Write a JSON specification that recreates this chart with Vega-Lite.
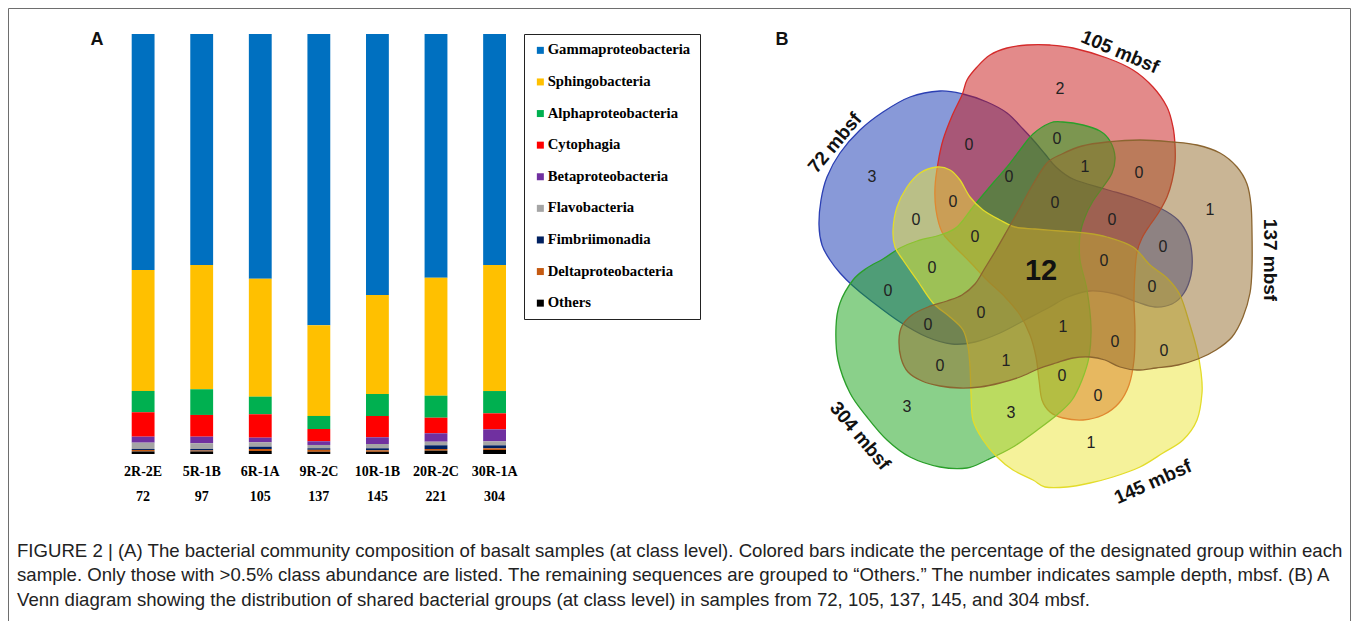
{
  "$schema": "https://vega.github.io/schema/vega-lite/v6.json",
  "width": 1342,
  "height": 620,
  "autosize": "none",
  "padding": {"left": 8, "top": 8, "right": 8, "bottom": 8},
  "background": "white",
  "config": {"view": {"stroke": "#6e6e6e", "strokeWidth": 1}, "font": "Liberation Sans"},
  "title": {
    "text": [
      "FIGURE 2 | (A) The bacterial community composition of basalt samples (at class level). Colored bars indicate the percentage of the designated group within each",
      "sample. Only those with >0.5% class abundance are listed. The remaining sequences are grouped to “Others.” The number indicates sample depth, mbsf. (B) A",
      "Venn diagram showing the distribution of shared bacterial groups (at class level) in samples from 72, 105, 137, 145, and 304 mbsf."
    ],
    "orient": "bottom",
    "anchor": "start",
    "frame": "group",
    "offset": -86,
    "dx": 9,
    "baseline": "top",
    "font": "Liberation Sans",
    "fontSize": 18.6,
    "fontWeight": "normal",
    "color": "#222",
    "lineHeight": 24.3
  },
  "datasets": {
    "bars": [
      {"s": "2R-2E|72", "cls": "Gammaproteobacteria", "k": 9, "v": 56.2},
      {"s": "2R-2E|72", "cls": "Sphingobacteria", "k": 8, "v": 28.8},
      {"s": "2R-2E|72", "cls": "Alphaproteobacteria", "k": 7, "v": 5.07},
      {"s": "2R-2E|72", "cls": "Cytophagia", "k": 6, "v": 5.81},
      {"s": "2R-2E|72", "cls": "Betaproteobacteria", "k": 5, "v": 1.43},
      {"s": "2R-2E|72", "cls": "Flavobacteria", "k": 4, "v": 1.5},
      {"s": "2R-2E|72", "cls": "Fimbriimonadia", "k": 3, "v": 0.24},
      {"s": "2R-2E|72", "cls": "Deltaproteobacteria", "k": 2, "v": 0.36},
      {"s": "2R-2E|72", "cls": "Others", "k": 1, "v": 0.6},
      {"s": "5R-1B|97", "cls": "Gammaproteobacteria", "k": 9, "v": 55.0},
      {"s": "5R-1B|97", "cls": "Sphingobacteria", "k": 8, "v": 29.6},
      {"s": "5R-1B|97", "cls": "Alphaproteobacteria", "k": 7, "v": 6.12},
      {"s": "5R-1B|97", "cls": "Cytophagia", "k": 6, "v": 5.17},
      {"s": "5R-1B|97", "cls": "Betaproteobacteria", "k": 5, "v": 1.57},
      {"s": "5R-1B|97", "cls": "Flavobacteria", "k": 4, "v": 1.36},
      {"s": "5R-1B|97", "cls": "Fimbriimonadia", "k": 3, "v": 0.36},
      {"s": "5R-1B|97", "cls": "Deltaproteobacteria", "k": 2, "v": 0.24},
      {"s": "5R-1B|97", "cls": "Others", "k": 1, "v": 0.6},
      {"s": "6R-1A|105", "cls": "Gammaproteobacteria", "k": 9, "v": 58.26},
      {"s": "6R-1A|105", "cls": "Sphingobacteria", "k": 8, "v": 28.1},
      {"s": "6R-1A|105", "cls": "Alphaproteobacteria", "k": 7, "v": 4.19},
      {"s": "6R-1A|105", "cls": "Cytophagia", "k": 6, "v": 5.57},
      {"s": "6R-1A|105", "cls": "Betaproteobacteria", "k": 5, "v": 1.1},
      {"s": "6R-1A|105", "cls": "Flavobacteria", "k": 4, "v": 1.05},
      {"s": "6R-1A|105", "cls": "Fimbriimonadia", "k": 3, "v": 0.55},
      {"s": "6R-1A|105", "cls": "Deltaproteobacteria", "k": 2, "v": 0.48},
      {"s": "6R-1A|105", "cls": "Others", "k": 1, "v": 0.71},
      {"s": "9R-2C|137", "cls": "Gammaproteobacteria", "k": 9, "v": 69.36},
      {"s": "9R-2C|137", "cls": "Sphingobacteria", "k": 8, "v": 21.6},
      {"s": "9R-2C|137", "cls": "Alphaproteobacteria", "k": 7, "v": 3.1},
      {"s": "9R-2C|137", "cls": "Cytophagia", "k": 6, "v": 2.93},
      {"s": "9R-2C|137", "cls": "Betaproteobacteria", "k": 5, "v": 0.88},
      {"s": "9R-2C|137", "cls": "Flavobacteria", "k": 4, "v": 0.79},
      {"s": "9R-2C|137", "cls": "Fimbriimonadia", "k": 3, "v": 0.36},
      {"s": "9R-2C|137", "cls": "Deltaproteobacteria", "k": 2, "v": 0.48},
      {"s": "9R-2C|137", "cls": "Others", "k": 1, "v": 0.52},
      {"s": "10R-1B|145", "cls": "Gammaproteobacteria", "k": 9, "v": 62.14},
      {"s": "10R-1B|145", "cls": "Sphingobacteria", "k": 8, "v": 23.57},
      {"s": "10R-1B|145", "cls": "Alphaproteobacteria", "k": 7, "v": 5.24},
      {"s": "10R-1B|145", "cls": "Cytophagia", "k": 6, "v": 5.07},
      {"s": "10R-1B|145", "cls": "Betaproteobacteria", "k": 5, "v": 1.6},
      {"s": "10R-1B|145", "cls": "Flavobacteria", "k": 4, "v": 1.02},
      {"s": "10R-1B|145", "cls": "Fimbriimonadia", "k": 3, "v": 0.48},
      {"s": "10R-1B|145", "cls": "Deltaproteobacteria", "k": 2, "v": 0.36},
      {"s": "10R-1B|145", "cls": "Others", "k": 1, "v": 0.52},
      {"s": "20R-2C|221", "cls": "Gammaproteobacteria", "k": 9, "v": 58.02},
      {"s": "20R-2C|221", "cls": "Sphingobacteria", "k": 8, "v": 28.1},
      {"s": "20R-2C|221", "cls": "Alphaproteobacteria", "k": 7, "v": 5.24},
      {"s": "20R-2C|221", "cls": "Cytophagia", "k": 6, "v": 3.71},
      {"s": "20R-2C|221", "cls": "Betaproteobacteria", "k": 5, "v": 2.0},
      {"s": "20R-2C|221", "cls": "Flavobacteria", "k": 4, "v": 0.86},
      {"s": "20R-2C|221", "cls": "Fimbriimonadia", "k": 3, "v": 0.88},
      {"s": "20R-2C|221", "cls": "Deltaproteobacteria", "k": 2, "v": 0.4},
      {"s": "20R-2C|221", "cls": "Others", "k": 1, "v": 0.79},
      {"s": "30R-1A|304", "cls": "Gammaproteobacteria", "k": 9, "v": 55.0},
      {"s": "30R-1A|304", "cls": "Sphingobacteria", "k": 8, "v": 30.0},
      {"s": "30R-1A|304", "cls": "Alphaproteobacteria", "k": 7, "v": 5.31},
      {"s": "30R-1A|304", "cls": "Cytophagia", "k": 6, "v": 3.81},
      {"s": "30R-1A|304", "cls": "Betaproteobacteria", "k": 5, "v": 2.86},
      {"s": "30R-1A|304", "cls": "Flavobacteria", "k": 4, "v": 0.95},
      {"s": "30R-1A|304", "cls": "Fimbriimonadia", "k": 3, "v": 0.71},
      {"s": "30R-1A|304", "cls": "Deltaproteobacteria", "k": 2, "v": 0.4},
      {"s": "30R-1A|304", "cls": "Others", "k": 1, "v": 0.95}
    ],
    "shapes": [
      {"g": "72", "i": 1, "x": 940, "y": 91}, {"g": "72", "i": 2, "x": 963, "y": 94}, {"g": "72", "i": 3, "x": 987, "y": 102}, {"g": "72", "i": 4, "x": 1007, "y": 113},
      {"g": "72", "i": 5, "x": 1023, "y": 129}, {"g": "72", "i": 6, "x": 1034, "y": 141}, {"g": "72", "i": 7, "x": 1045, "y": 154}, {"g": "72", "i": 8, "x": 1056, "y": 167},
      {"g": "72", "i": 9, "x": 1073, "y": 179}, {"g": "72", "i": 10, "x": 1105, "y": 189}, {"g": "72", "i": 11, "x": 1135, "y": 198}, {"g": "72", "i": 12, "x": 1160, "y": 208},
      {"g": "72", "i": 13, "x": 1178, "y": 220}, {"g": "72", "i": 14, "x": 1188, "y": 236}, {"g": "72", "i": 15, "x": 1192, "y": 255}, {"g": "72", "i": 16, "x": 1191, "y": 275},
      {"g": "72", "i": 17, "x": 1184, "y": 293}, {"g": "72", "i": 18, "x": 1172, "y": 304}, {"g": "72", "i": 19, "x": 1155, "y": 307}, {"g": "72", "i": 20, "x": 1137, "y": 302},
      {"g": "72", "i": 21, "x": 1115, "y": 294}, {"g": "72", "i": 22, "x": 1090, "y": 291}, {"g": "72", "i": 23, "x": 1068, "y": 297}, {"g": "72", "i": 24, "x": 1048, "y": 308},
      {"g": "72", "i": 25, "x": 1025, "y": 320}, {"g": "72", "i": 26, "x": 1000, "y": 333}, {"g": "72", "i": 27, "x": 975, "y": 342}, {"g": "72", "i": 28, "x": 952, "y": 344},
      {"g": "72", "i": 29, "x": 927, "y": 337}, {"g": "72", "i": 30, "x": 900, "y": 322}, {"g": "72", "i": 31, "x": 870, "y": 300}, {"g": "72", "i": 32, "x": 853, "y": 286},
      {"g": "72", "i": 33, "x": 840, "y": 273}, {"g": "72", "i": 34, "x": 830, "y": 260}, {"g": "72", "i": 35, "x": 822, "y": 245}, {"g": "72", "i": 36, "x": 819, "y": 225},
      {"g": "72", "i": 37, "x": 821, "y": 200}, {"g": "72", "i": 38, "x": 827, "y": 177}, {"g": "72", "i": 39, "x": 840, "y": 153}, {"g": "72", "i": 40, "x": 860, "y": 130},
      {"g": "72", "i": 41, "x": 883, "y": 112}, {"g": "72", "i": 42, "x": 910, "y": 97},

      {"g": "105", "i": 1, "x": 962, "y": 95}, {"g": "105", "i": 2, "x": 967, "y": 80}, {"g": "105", "i": 3, "x": 977, "y": 67}, {"g": "105", "i": 4, "x": 990, "y": 55},
      {"g": "105", "i": 5, "x": 1007, "y": 48}, {"g": "105", "i": 6, "x": 1027, "y": 45}, {"g": "105", "i": 7, "x": 1050, "y": 45}, {"g": "105", "i": 8, "x": 1073, "y": 48},
      {"g": "105", "i": 9, "x": 1107, "y": 58}, {"g": "105", "i": 10, "x": 1133, "y": 70}, {"g": "105", "i": 11, "x": 1153, "y": 87}, {"g": "105", "i": 12, "x": 1167, "y": 107},
      {"g": "105", "i": 13, "x": 1173, "y": 127}, {"g": "105", "i": 14, "x": 1175, "y": 145}, {"g": "105", "i": 15, "x": 1175, "y": 163}, {"g": "105", "i": 16, "x": 1172, "y": 181},
      {"g": "105", "i": 17, "x": 1167, "y": 197}, {"g": "105", "i": 18, "x": 1159, "y": 212}, {"g": "105", "i": 19, "x": 1150, "y": 225}, {"g": "105", "i": 20, "x": 1142, "y": 238},
      {"g": "105", "i": 21, "x": 1137, "y": 252}, {"g": "105", "i": 22, "x": 1135, "y": 272}, {"g": "105", "i": 23, "x": 1134, "y": 300}, {"g": "105", "i": 24, "x": 1135, "y": 330},
      {"g": "105", "i": 25, "x": 1134, "y": 360}, {"g": "105", "i": 26, "x": 1129, "y": 385}, {"g": "105", "i": 27, "x": 1119, "y": 403}, {"g": "105", "i": 28, "x": 1103, "y": 415},
      {"g": "105", "i": 29, "x": 1083, "y": 420}, {"g": "105", "i": 30, "x": 1063, "y": 418}, {"g": "105", "i": 31, "x": 1050, "y": 412}, {"g": "105", "i": 32, "x": 1042, "y": 400},
      {"g": "105", "i": 33, "x": 1039, "y": 380}, {"g": "105", "i": 34, "x": 1036, "y": 357}, {"g": "105", "i": 35, "x": 1030, "y": 335}, {"g": "105", "i": 36, "x": 1020, "y": 315},
      {"g": "105", "i": 37, "x": 1005, "y": 297}, {"g": "105", "i": 38, "x": 987, "y": 280}, {"g": "105", "i": 39, "x": 970, "y": 262}, {"g": "105", "i": 40, "x": 953, "y": 245},
      {"g": "105", "i": 41, "x": 942, "y": 232}, {"g": "105", "i": 42, "x": 936, "y": 210}, {"g": "105", "i": 43, "x": 935, "y": 187}, {"g": "105", "i": 44, "x": 938, "y": 163},
      {"g": "105", "i": 45, "x": 943, "y": 140}, {"g": "105", "i": 46, "x": 952, "y": 116},

      {"g": "137", "i": 1, "x": 1047, "y": 163}, {"g": "137", "i": 2, "x": 1062, "y": 154}, {"g": "137", "i": 3, "x": 1082, "y": 146}, {"g": "137", "i": 4, "x": 1107, "y": 142},
      {"g": "137", "i": 5, "x": 1140, "y": 140}, {"g": "137", "i": 6, "x": 1173, "y": 142}, {"g": "137", "i": 7, "x": 1197, "y": 145}, {"g": "137", "i": 8, "x": 1220, "y": 153},
      {"g": "137", "i": 9, "x": 1237, "y": 167}, {"g": "137", "i": 10, "x": 1247, "y": 184}, {"g": "137", "i": 11, "x": 1251, "y": 205}, {"g": "137", "i": 12, "x": 1252, "y": 232},
      {"g": "137", "i": 13, "x": 1252, "y": 268}, {"g": "137", "i": 14, "x": 1250, "y": 293}, {"g": "137", "i": 15, "x": 1243, "y": 317}, {"g": "137", "i": 16, "x": 1232, "y": 337},
      {"g": "137", "i": 17, "x": 1216, "y": 350}, {"g": "137", "i": 18, "x": 1198, "y": 359}, {"g": "137", "i": 19, "x": 1178, "y": 365}, {"g": "137", "i": 20, "x": 1156, "y": 368},
      {"g": "137", "i": 21, "x": 1137, "y": 370}, {"g": "137", "i": 22, "x": 1120, "y": 367}, {"g": "137", "i": 23, "x": 1105, "y": 360}, {"g": "137", "i": 24, "x": 1090, "y": 357},
      {"g": "137", "i": 25, "x": 1073, "y": 358}, {"g": "137", "i": 26, "x": 1056, "y": 363}, {"g": "137", "i": 27, "x": 1038, "y": 369}, {"g": "137", "i": 28, "x": 1020, "y": 377},
      {"g": "137", "i": 29, "x": 1000, "y": 383}, {"g": "137", "i": 30, "x": 980, "y": 387}, {"g": "137", "i": 31, "x": 960, "y": 388}, {"g": "137", "i": 32, "x": 940, "y": 386},
      {"g": "137", "i": 33, "x": 922, "y": 381}, {"g": "137", "i": 34, "x": 908, "y": 372}, {"g": "137", "i": 35, "x": 901, "y": 358}, {"g": "137", "i": 36, "x": 899, "y": 340},
      {"g": "137", "i": 37, "x": 902, "y": 326}, {"g": "137", "i": 38, "x": 912, "y": 315}, {"g": "137", "i": 39, "x": 928, "y": 307}, {"g": "137", "i": 40, "x": 947, "y": 301},
      {"g": "137", "i": 41, "x": 962, "y": 295}, {"g": "137", "i": 42, "x": 975, "y": 284}, {"g": "137", "i": 43, "x": 985, "y": 268}, {"g": "137", "i": 44, "x": 996, "y": 250},
      {"g": "137", "i": 45, "x": 1008, "y": 229}, {"g": "137", "i": 46, "x": 1020, "y": 208}, {"g": "137", "i": 47, "x": 1032, "y": 186},

      {"g": "145", "i": 1, "x": 937, "y": 167}, {"g": "145", "i": 2, "x": 950, "y": 170}, {"g": "145", "i": 3, "x": 960, "y": 180}, {"g": "145", "i": 4, "x": 970, "y": 197},
      {"g": "145", "i": 5, "x": 983, "y": 210}, {"g": "145", "i": 6, "x": 1000, "y": 220}, {"g": "145", "i": 7, "x": 1015, "y": 227}, {"g": "145", "i": 8, "x": 1035, "y": 229},
      {"g": "145", "i": 9, "x": 1060, "y": 231}, {"g": "145", "i": 10, "x": 1085, "y": 233}, {"g": "145", "i": 11, "x": 1107, "y": 237}, {"g": "145", "i": 12, "x": 1133, "y": 247},
      {"g": "145", "i": 13, "x": 1150, "y": 265}, {"g": "145", "i": 14, "x": 1167, "y": 278}, {"g": "145", "i": 15, "x": 1180, "y": 295}, {"g": "145", "i": 16, "x": 1190, "y": 325},
      {"g": "145", "i": 17, "x": 1197, "y": 350}, {"g": "145", "i": 18, "x": 1201, "y": 372}, {"g": "145", "i": 19, "x": 1202, "y": 393}, {"g": "145", "i": 20, "x": 1197, "y": 420},
      {"g": "145", "i": 21, "x": 1183, "y": 440}, {"g": "145", "i": 22, "x": 1163, "y": 453}, {"g": "145", "i": 23, "x": 1140, "y": 467}, {"g": "145", "i": 24, "x": 1113, "y": 477},
      {"g": "145", "i": 25, "x": 1090, "y": 483}, {"g": "145", "i": 26, "x": 1067, "y": 487}, {"g": "145", "i": 27, "x": 1045, "y": 487}, {"g": "145", "i": 28, "x": 1033, "y": 480},
      {"g": "145", "i": 29, "x": 1013, "y": 470}, {"g": "145", "i": 30, "x": 997, "y": 457}, {"g": "145", "i": 31, "x": 983, "y": 440}, {"g": "145", "i": 32, "x": 973, "y": 420},
      {"g": "145", "i": 33, "x": 971, "y": 393}, {"g": "145", "i": 34, "x": 970, "y": 367}, {"g": "145", "i": 35, "x": 968, "y": 347}, {"g": "145", "i": 36, "x": 963, "y": 330},
      {"g": "145", "i": 37, "x": 950, "y": 317}, {"g": "145", "i": 38, "x": 933, "y": 303}, {"g": "145", "i": 39, "x": 917, "y": 280}, {"g": "145", "i": 40, "x": 903, "y": 260},
      {"g": "145", "i": 41, "x": 895, "y": 247}, {"g": "145", "i": 42, "x": 893, "y": 230}, {"g": "145", "i": 43, "x": 897, "y": 207}, {"g": "145", "i": 44, "x": 907, "y": 187},
      {"g": "145", "i": 45, "x": 920, "y": 173},

      {"g": "304", "i": 1, "x": 1050, "y": 123}, {"g": "304", "i": 2, "x": 1063, "y": 122}, {"g": "304", "i": 3, "x": 1083, "y": 125}, {"g": "304", "i": 4, "x": 1100, "y": 131},
      {"g": "304", "i": 5, "x": 1110, "y": 141}, {"g": "304", "i": 6, "x": 1115, "y": 157}, {"g": "304", "i": 7, "x": 1112, "y": 173}, {"g": "304", "i": 8, "x": 1103, "y": 187},
      {"g": "304", "i": 9, "x": 1093, "y": 201}, {"g": "304", "i": 10, "x": 1085, "y": 217}, {"g": "304", "i": 11, "x": 1080, "y": 235}, {"g": "304", "i": 12, "x": 1080, "y": 260},
      {"g": "304", "i": 13, "x": 1087, "y": 290}, {"g": "304", "i": 14, "x": 1091, "y": 327}, {"g": "304", "i": 15, "x": 1089, "y": 357}, {"g": "304", "i": 16, "x": 1082, "y": 380},
      {"g": "304", "i": 17, "x": 1072, "y": 400}, {"g": "304", "i": 18, "x": 1058, "y": 414}, {"g": "304", "i": 19, "x": 1040, "y": 428}, {"g": "304", "i": 20, "x": 1013, "y": 447},
      {"g": "304", "i": 21, "x": 987, "y": 460}, {"g": "304", "i": 22, "x": 967, "y": 468}, {"g": "304", "i": 23, "x": 940, "y": 467}, {"g": "304", "i": 24, "x": 910, "y": 457},
      {"g": "304", "i": 25, "x": 887, "y": 440}, {"g": "304", "i": 26, "x": 867, "y": 417}, {"g": "304", "i": 27, "x": 850, "y": 393}, {"g": "304", "i": 28, "x": 838, "y": 360},
      {"g": "304", "i": 29, "x": 836, "y": 327}, {"g": "304", "i": 30, "x": 840, "y": 303}, {"g": "304", "i": 31, "x": 853, "y": 280}, {"g": "304", "i": 32, "x": 867, "y": 268},
      {"g": "304", "i": 33, "x": 883, "y": 259}, {"g": "304", "i": 34, "x": 900, "y": 248}, {"g": "304", "i": 35, "x": 917, "y": 241}, {"g": "304", "i": 36, "x": 940, "y": 235},
      {"g": "304", "i": 37, "x": 957, "y": 227}, {"g": "304", "i": 38, "x": 973, "y": 207}, {"g": "304", "i": 39, "x": 993, "y": 183}, {"g": "304", "i": 40, "x": 1007, "y": 167},
      {"g": "304", "i": 41, "x": 1020, "y": 150}, {"g": "304", "i": 42, "x": 1033, "y": 134}
    ],
    "counts": [
      {"n": "3", "x": 872, "y": 177}, {"n": "2", "x": 1060, "y": 89}, {"n": "0", "x": 969, "y": 145}, {"n": "0", "x": 1057, "y": 139},
      {"n": "1", "x": 1085, "y": 167}, {"n": "0", "x": 1139, "y": 173}, {"n": "1", "x": 1210, "y": 210}, {"n": "0", "x": 1009, "y": 177},
      {"n": "0", "x": 953, "y": 202}, {"n": "0", "x": 1055, "y": 203}, {"n": "0", "x": 916, "y": 220}, {"n": "0", "x": 1112, "y": 220},
      {"n": "0", "x": 975, "y": 237}, {"n": "0", "x": 1163, "y": 247}, {"n": "0", "x": 1104, "y": 261}, {"n": "0", "x": 932, "y": 268},
      {"n": "0", "x": 888, "y": 291}, {"n": "0", "x": 1152, "y": 287}, {"n": "0", "x": 981, "y": 313}, {"n": "0", "x": 928, "y": 325},
      {"n": "1", "x": 1063, "y": 327}, {"n": "0", "x": 1115, "y": 342}, {"n": "0", "x": 1164, "y": 351}, {"n": "0", "x": 940, "y": 366},
      {"n": "1", "x": 1006, "y": 361}, {"n": "0", "x": 1062, "y": 376}, {"n": "0", "x": 1098, "y": 396}, {"n": "3", "x": 907, "y": 407},
      {"n": "3", "x": 1011, "y": 413}, {"n": "1", "x": 1091, "y": 443}
    ],
    "labels": [
      {"t": "12", "x": 1041, "y": 271},
      {"t": "72 mbsf", "x": 835, "y": 143},
      {"t": "105 mbsf", "x": 1120, "y": 52},
      {"t": "137 mbsf", "x": 1270, "y": 260},
      {"t": "145 mbsf", "x": 1153, "y": 482},
      {"t": "304 mbsf", "x": 860, "y": 436},
      {"t": "A", "x": 97, "y": 40},
      {"t": "B", "x": 782, "y": 40}
    ]
  },
  "layer": [
    {
      "data": {"name": "bars"},
      "mark": {"type": "bar"},
      "encoding": {
        "x": {
          "field": "s", "type": "nominal", "sort": null,
          "scale": {"range": [123.7, 498], "paddingInner": 0.61, "paddingOuter": 0},
          "axis": {
            "title": null, "domain": false, "ticks": false, "grid": false, "labelAngle": 0,
            "labelExpr": "split(datum.value, '|')",
            "labelFont": "Liberation Serif", "labelFontWeight": "bold", "labelFontSize": 14,
            "labelColor": "#000", "labelPadding": 10, "labelLineHeight": 25, "offset": -174
          }
        },
        "y": {
          "field": "v", "type": "quantitative", "stack": "normalize",
          "scale": {"range": [446, 26]}, "axis": null
        },
        "order": {"field": "k", "type": "quantitative"},
        "color": {
          "field": "cls", "type": "nominal",
          "scale": {
            "domain": ["Gammaproteobacteria", "Sphingobacteria", "Alphaproteobacteria", "Cytophagia", "Betaproteobacteria", "Flavobacteria", "Fimbriimonadia", "Deltaproteobacteria", "Others"],
            "range": ["#0070C0", "#FFC000", "#00B050", "#FF0000", "#7030A0", "#A5A5A5", "#002060", "#C55A11", "#000000"]
          },
          "legend": {
            "orient": "none", "legendX": 516, "legendY": 26, "title": null,
            "strokeColor": "#222", "fillColor": "#fff", "padding": 9,
            "symbolType": "square", "symbolSize": 49, "symbolStrokeWidth": 0,
            "labelFont": "Liberation Serif", "labelFontWeight": "bold", "labelFontSize": 14.7,
            "labelColor": "#000", "rowPadding": 15.6, "labelOffset": 0
          }
        }
      }
    },
    {
      "data": {"name": "shapes"},
      "encoding": {
        "x": {"field": "x", "type": "quantitative", "scale": {"domain": [8, 1350], "zero": false, "nice": false}, "axis": null},
        "y": {"field": "y", "type": "quantitative", "scale": {"domain": [8, 628], "reverse": true, "zero": false, "nice": false}, "axis": null}
      },
      "layer": [
        {
          "transform": [{"filter": "datum.g == '72'"}],
          "mark": {"type": "line", "interpolate": "cardinal-closed", "fill": "#1133b1", "fillOpacity": 0.5, "stroke": "#2b3fb3", "strokeWidth": 1.3},
          "encoding": {"order": {"field": "i", "type": "quantitative"}}
        },
        {
          "transform": [{"filter": "datum.g == '105'"}],
          "mark": {"type": "line", "interpolate": "cardinal-closed", "fill": "#c71515", "fillOpacity": 0.5, "stroke": "#d42a2a", "strokeWidth": 1.3},
          "encoding": {"order": {"field": "i", "type": "quantitative"}}
        },
        {
          "transform": [{"filter": "datum.g == '304'"}],
          "mark": {"type": "line", "interpolate": "cardinal-closed", "fill": "#15a115", "fillOpacity": 0.5, "stroke": "#2a9f2a", "strokeWidth": 1.3},
          "encoding": {"order": {"field": "i", "type": "quantitative"}}
        },
        {
          "transform": [{"filter": "datum.g == '145'"}],
          "mark": {"type": "line", "interpolate": "cardinal-closed", "fill": "#ebe535", "fillOpacity": 0.5, "stroke": "#e3dc2a", "strokeWidth": 1.3},
          "encoding": {"order": {"field": "i", "type": "quantitative"}}
        },
        {
          "transform": [{"filter": "datum.g == '137'"}],
          "mark": {"type": "line", "interpolate": "cardinal-closed", "fill": "#936b2b", "fillOpacity": 0.5, "stroke": "#8b6530", "strokeWidth": 1.3},
          "encoding": {"order": {"field": "i", "type": "quantitative"}}
        },
        {
          "data": {"name": "counts"},
          "mark": {"type": "text", "font": "Liberation Sans", "fontSize": 16, "color": "#222", "align": "center", "baseline": "middle"},
          "encoding": {"text": {"field": "n"}}
        },
        {
          "data": {"name": "labels"},
          "transform": [{"filter": "datum.t == '12'"}],
          "mark": {"type": "text", "font": "Liberation Sans", "fontSize": 29, "fontWeight": "bold", "color": "#111", "align": "center", "baseline": "middle"},
          "encoding": {"text": {"field": "t"}}
        },
        {
          "data": {"name": "labels"},
          "transform": [{"filter": "datum.t == 'A' || datum.t == 'B'"}],
          "mark": {"type": "text", "font": "Liberation Sans", "fontSize": 18, "fontWeight": "bold", "color": "#111", "align": "center", "baseline": "middle"},
          "encoding": {"text": {"field": "t"}}
        },
        {
          "data": {"name": "labels"},
          "transform": [{"filter": "datum.t == '72 mbsf'"}],
          "mark": {"type": "text", "font": "Liberation Sans", "fontSize": 19, "fontWeight": "bold", "color": "#111", "align": "center", "baseline": "middle", "angle": -50},
          "encoding": {"text": {"field": "t"}}
        },
        {
          "data": {"name": "labels"},
          "transform": [{"filter": "datum.t == '105 mbsf'"}],
          "mark": {"type": "text", "font": "Liberation Sans", "fontSize": 19, "fontWeight": "bold", "color": "#111", "align": "center", "baseline": "middle", "angle": 23},
          "encoding": {"text": {"field": "t"}}
        },
        {
          "data": {"name": "labels"},
          "transform": [{"filter": "datum.t == '137 mbsf'"}],
          "mark": {"type": "text", "font": "Liberation Sans", "fontSize": 19, "fontWeight": "bold", "color": "#111", "align": "center", "baseline": "middle", "angle": 90},
          "encoding": {"text": {"field": "t"}}
        },
        {
          "data": {"name": "labels"},
          "transform": [{"filter": "datum.t == '145 mbsf'"}],
          "mark": {"type": "text", "font": "Liberation Sans", "fontSize": 19, "fontWeight": "bold", "color": "#111", "align": "center", "baseline": "middle", "angle": -24},
          "encoding": {"text": {"field": "t"}}
        },
        {
          "data": {"name": "labels"},
          "transform": [{"filter": "datum.t == '304 mbsf'"}],
          "mark": {"type": "text", "font": "Liberation Sans", "fontSize": 19, "fontWeight": "bold", "color": "#111", "align": "center", "baseline": "middle", "angle": 50},
          "encoding": {"text": {"field": "t"}}
        }
      ]
    }
  ],
  "resolve": {"scale": {"x": "independent", "y": "independent"}, "axis": {"x": "independent", "y": "independent"}}
}
